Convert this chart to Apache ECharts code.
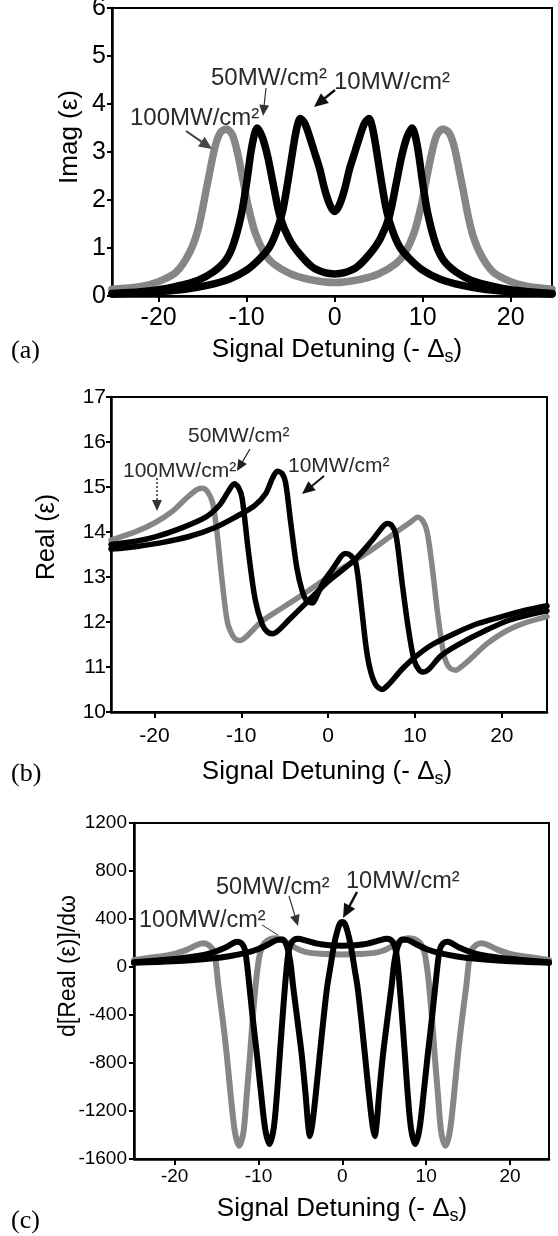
<!DOCTYPE html>
<html><head><meta charset="utf-8">
<script src="https://cdn.jsdelivr.net/npm/echarts@6/dist/echarts.min.js"></script>
<style>html,body{margin:0;padding:0;background:#fff}#c{width:558px;height:1236px}</style>
</head><body><div id="c"></div>
<script>
// ---------- DATA ----------
const SERIES_NAMES = ['10MW/cm²', '50MW/cm²', '100MW/cm²'];
const X_TICKS = [-20, -10, 0, 10, 20];

// Panel (a): Imag(eps)
const A10_X = [-25.3,-22,-20,-17,-14.5,-12,-10,-8.5,-7.4,-6.6,-5.9,-5.3,-4.7,-4.3,-3.9,-3.4,-2.9,-2.3,-1.7,-1.1,-0.5,0,0.5,1.1,1.7,2.3,2.9,3.4,3.9,4.3,4.7,5.3,5.9,6.6,7.4,8.5,10,12,14.5,17,20,22,24.7];
const A10_Y = [0.04,0.07,0.09,0.14,0.22,0.35,0.54,0.78,1.02,1.35,1.78,2.4,3.1,3.5,3.7,3.6,3.35,3.0,2.65,2.2,1.88,1.76,1.88,2.2,2.65,3.0,3.35,3.6,3.7,3.5,3.1,2.4,1.78,1.35,1.02,0.78,0.54,0.35,0.22,0.14,0.09,0.07,0.04];
const A50_X = [-25.3,-22,-20,-18,-15.5,-13.8,-12.4,-11.5,-10.6,-10,-9.4,-8.8,-8.2,-7.6,-7,-6.2,-5.2,-4,-2.5,-1,0,1,2.5,4,5.2,6.2,7,7.6,8.2,8.8,9.4,10,10.6,11.5,12.4,13.8,15.5,18,20,22,24.7];
const A50_Y = [0.05,0.09,0.13,0.2,0.33,0.5,0.74,1.08,1.7,2.36,3.12,3.5,3.3,2.9,2.35,1.65,1.2,0.88,0.6,0.48,0.46,0.48,0.6,0.88,1.2,1.65,2.35,2.9,3.3,3.5,3.12,2.36,1.7,1.08,0.74,0.5,0.33,0.2,0.13,0.09,0.05];
const A100_X = [-25.3,-22,-20,-18,-16.5,-15.5,-14.5,-13.6,-13,-12.3,-11.6,-11,-10.5,-9.8,-9,-8,-7,-5,-3,0,3,5,7,8,9,9.8,10.5,11,11.6,12.3,13,13.6,14.5,15.5,16.5,18,20,22,24.7];
const A100_Y = [0.14,0.2,0.3,0.5,0.9,1.4,2.3,3.1,3.4,3.48,3.35,2.95,2.5,1.85,1.3,0.9,0.68,0.46,0.35,0.28,0.35,0.46,0.68,0.9,1.3,1.85,2.5,2.95,3.35,3.48,3.4,3.1,2.3,1.4,0.9,0.5,0.3,0.2,0.14];

// Panel (b): Real(eps)
const B10_X = [-25,-22,-19,-16,-13,-10.5,-8.5,-7.2,-6.4,-5.85,-5.3,-4.9,-4.3,-3.6,-3.0,-2.5,-1.8,-1.2,-0.5,0.3,1.0,1.6,2.0,2.6,3.2,3.8,4.4,4.9,5.5,6.2,7.0,8.5,10,12,14.5,17,20,22.5,25.2];
const B10_Y = [13.62,13.68,13.77,13.9,14.1,14.35,14.58,14.85,15.2,15.35,15.3,15.1,14.2,13.2,12.7,12.48,12.42,12.62,12.9,13.12,13.32,13.48,13.52,13.48,13.3,12.4,11.4,10.9,10.6,10.5,10.62,10.95,11.22,11.5,11.74,11.95,12.12,12.25,12.36];
const B50_X = [-25,-22,-19.9,-17,-14.1,-12.5,-11.5,-10.8,-10.3,-9.9,-9.2,-8.4,-7.6,-7.0,-6.4,-5.8,-4.5,-2.6,0,3,5,6.3,6.8,7.3,7.8,8.5,9.2,9.9,10.5,11,11.6,13,15.2,18,21,25.2];
const B50_Y = [13.72,13.8,13.89,14.08,14.33,14.6,14.9,15.07,14.98,14.75,13.6,12.5,11.95,11.78,11.74,11.8,12.05,12.41,12.9,13.37,13.8,14.12,14.19,14.15,13.95,12.9,11.9,11.15,10.93,10.89,10.95,11.25,11.52,11.8,12.05,12.25];
const B100_X = [-25,-22,-20,-18,-16.5,-15.2,-14.5,-13.9,-13.3,-12.8,-12.2,-11.6,-11.0,-10.5,-10.1,-9.5,-7.6,-5,-2.6,0,2.5,5,7.5,9.5,10.3,10.9,11.4,12.0,12.6,13.3,13.9,14.7,15.3,16.5,18.3,20.5,22.5,25.2];
const B100_Y = [13.82,14.02,14.2,14.45,14.72,14.93,14.97,14.9,14.65,14.0,12.9,12.0,11.7,11.6,11.59,11.66,12.02,12.35,12.65,13.0,13.3,13.6,13.95,14.22,14.33,14.25,14.0,13.2,12.2,11.3,11.0,10.93,11.0,11.2,11.52,11.8,11.97,12.12];

// Panel (c): d[Real(eps)]/dw
const C10_X = [-24.85,-22,-19,-16,-13.5,-11.5,-10,-8.8,-7.8,-7.1,-6.6,-6.2,-5.86,-5.4,-4.86,-4.4,-4.1,-3.87,-3.6,-3.2,-2.68,-2.2,-1.8,-1.49,-1.0,-0.6,-0.3,0,0.3,0.6,1.0,1.49,1.8,2.2,2.68,3.2,3.6,3.87,4.1,4.4,4.86,5.4,5.86,6.2,6.6,7.1,7.8,8.8,10,11.5,13.5,16,19,22,24.65];
const C10_Y = [35,42,52,68,90,118,150,190,225,230,170,40,-167,-420,-722,-1050,-1300,-1410,-1320,-1080,-722,-400,-160,-28,180,300,360,375,360,300,180,-28,-160,-400,-722,-1080,-1320,-1410,-1300,-1050,-722,-420,-167,40,170,230,225,190,150,118,90,68,52,42,35];
const C50_X = [-24.85,-22,-19,-16,-14,-13,-12.5,-12,-11.6,-11.1,-10.7,-10.2,-9.7,-9.2,-8.7,-8.2,-7.8,-7.45,-7.0,-6.7,-6.4,-6.0,-5.3,-4.3,-3,-1.5,0,1.5,3,4.3,5.3,6.0,6.4,6.7,7.0,7.45,7.8,8.2,8.7,9.2,9.7,10.2,10.7,11.1,11.6,12,12.5,13,14,16,19,22,24.65];
const C50_Y = [40,55,75,110,160,200,210,195,139,-150,-420,-722,-1050,-1350,-1475,-1350,-1060,-722,-300,-50,130,210,235,220,195,182,178,182,195,220,235,210,130,-50,-300,-722,-1060,-1350,-1475,-1350,-1050,-722,-420,-150,139,195,210,200,160,110,75,55,40];
const C100_X = [-24.85,-22,-20,-18.5,-17.3,-16.6,-16.0,-15.5,-15.2,-14.8,-14.3,-13.8,-13.3,-12.8,-12.3,-11.8,-11.4,-11.0,-10.6,-10.2,-9.8,-9.3,-8.5,-7.8,-7,-6,-5,-4,-2,0,2,4,5,6,7,7.8,8.5,9.3,9.8,10.2,10.6,11.0,11.4,11.8,12.3,12.8,13.3,13.8,14.3,14.8,15.2,15.5,16.0,16.6,17.3,18.5,20,22,24.65];
const C100_Y = [58,85,110,145,185,198,185,150,100,-150,-420,-722,-1080,-1380,-1490,-1380,-1060,-722,-350,-60,120,200,235,240,220,175,140,120,108,105,108,120,140,175,220,240,235,200,120,-60,-350,-722,-1060,-1380,-1490,-1380,-1080,-722,-420,-150,100,150,185,198,185,145,110,85,58];

// ---------- LAYOUT / STYLE ----------
const FONT = '"Liberation Sans", Arial, Helvetica, sans-serif';
const SERIF = '"Liberation Serif", "Times New Roman", serif';
const BLACK = '#000000', GREY = '#868686', TXT = '#2a2a2a';

const panels = [
  { grid:{left:112, top:8, width:440, height:288}, xMin:-25.3, xMax:24.7, yMin:0, yMax:6, yInt:1,
    tick:25, xMargin:10, yMargin:6, lw:7.5,
    data:[[A10_X,A10_Y,BLACK],[A50_X,A50_Y,BLACK],[A100_X,A100_Y,GREY]] },
  { grid:{left:111, top:397, width:436, height:315}, xMin:-25, xMax:25.2, yMin:10, yMax:17, yInt:1,
    tick:21, xMargin:14, yMargin:5, lw:5.5,
    data:[[B10_X,B10_Y,BLACK],[B50_X,B50_Y,BLACK],[B100_X,B100_Y,GREY]] },
  { grid:{left:134, top:823, width:415, height:336}, xMin:-24.85, xMax:24.65, yMin:-1600, yMax:1200, yInt:400,
    tick:19, xMargin:8, yMargin:7, lw:6,
    data:[[C10_X,C10_Y,BLACK],[C50_X,C50_Y,BLACK],[C100_X,C100_Y,GREY]] }
];

const grids = [], xAxes = [], yAxes = [], series = [];
panels.forEach((p, i) => {
  grids.push(Object.assign({show:true, borderColor:'#000', borderWidth:2, backgroundColor:'transparent', outerBoundsMode:'none'}, p.grid));
  xAxes.push({
    gridIndex:i, type:'value', min:p.xMin, max:p.xMax,
    axisLine:{show:true, onZero:false, lineStyle:{color:'#000', width:2.5}},
    axisTick:{show:true, inside:false, length:6, customValues:X_TICKS, lineStyle:{color:'#000', width:2}},
    axisLabel:{show:true, customValues:X_TICKS, color:'#000', fontSize:p.tick, fontFamily:FONT, margin:p.xMargin,
               formatter:v => String(v)},
    splitLine:{show:false}
  });
  yAxes.push({
    gridIndex:i, type:'value', min:p.yMin, max:p.yMax, interval:p.yInt,
    axisLine:{show:true, onZero:false, lineStyle:{color:'#000', width:2.5}},
    axisTick:{show:true, inside:false, length:5, lineStyle:{color:'#000', width:2}},
    axisLabel:{show:true, color:'#000', fontSize:p.tick, fontFamily:FONT, margin:p.yMargin,
               formatter:v => String(v)},
    splitLine:{show:false}
  });
  [2,1,0].forEach(k => {
    const [X, Y, col] = p.data[k];
    series.push({
      name: SERIES_NAMES[k], type:'line', xAxisIndex:i, yAxisIndex:i,
      data: X.map((x, j) => [x, Y[j]]),
      showSymbol:false, symbol:'none', smooth:0.3, clip:true,
      lineStyle:{color:col, width:p.lw, cap:'round', join:'round'},
      z: 2 + (2-k)
    });
  });
});

// ---------- ANNOTATIONS ----------
const G = [];
function text(x, y, s, size, o) {
  o = o || {};
  G.push({type:'text', x:x, y:y, rotation:o.rot || 0, z:100,
    style:{text:s, fill:o.fill || '#000', font:(size)+'px '+(o.family || FONT),
           align:o.align || 'left', verticalAlign:'middle'}});
}
function arrow(x1, y1, x2, y2, head, w, o) {
  o = o || {};
  const dx = x2-x1, dy = y2-y1, L = Math.hypot(dx, dy), ux = dx/L, uy = dy/L;
  const bx = x2 - ux*head, by = y2 - uy*head, hw = head*0.45;
  G.push({type:'line', z:100, shape:{x1:x1, y1:y1, x2:head ? bx+ux*1 : x2, y2:head ? by+uy*1 : y2},
    style:{stroke:o.color || '#1a1a1a', lineWidth:w, lineDash:o.dash || null}});
  if (head) G.push({type:'polygon', z:100, shape:{points:[[x2,y2],[bx - uy*hw, by + ux*hw],[bx + uy*hw, by - ux*hw]]},
    style:{fill:o.color || '#1a1a1a'}});
}
const measureCtx = document.createElement('canvas').getContext('2d');
function xTitle(cx, cy, size) {
  const p1 = 'Signal Detuning (- Δ', sub = 's', p2 = ')';
  const ss = Math.round(size*0.68);
  measureCtx.font = size+'px '+FONT; const w1 = measureCtx.measureText(p1).width, w2 = measureCtx.measureText(p2).width;
  measureCtx.font = ss+'px '+FONT; const ws = measureCtx.measureText(sub).width;
  const x0 = cx - (w1+ws+w2)/2;
  text(x0, cy, p1, size);
  text(x0+w1, cy+size*0.28, sub, ss);
  text(x0+w1+ws, cy, p2, size);
}

// Panel (a)
text(70, 137, 'Imag (ε)', 26, {align:'center', rot:Math.PI/2});
xTitle(337, 350, 26);
text(11, 351, '(a)', 26, {family:SERIF});
text(130, 118, '100MW/cm²', 24, {fill:TXT});
text(211, 78, '50MW/cm²', 24, {fill:TXT});
text(334, 82, '10MW/cm²', 24, {fill:TXT});
arrow(186, 131, 212, 149, 13, 2, {color:'#444'});
arrow(266, 88, 263, 116, 11, 1.2, {color:'#333'});
arrow(335, 90, 314, 107, 14, 2.5, {color:'#111'});

// Panel (b)
text(47, 537, 'Real (ε)', 25, {align:'center', rot:Math.PI/2});
xTitle(327, 772, 26);
text(11, 774, '(b)', 26, {family:SERIF});
text(123, 471, '100MW/cm²', 21, {fill:TXT});
text(188, 436, '50MW/cm²', 21, {fill:TXT});
text(288, 466, '10MW/cm²', 21, {fill:TXT});
arrow(157, 478, 157, 511, 11, 1.5, {color:'#333', dash:[2,2]});
arrow(250, 449, 237, 471, 11, 1.2, {color:'#222'});
arrow(324, 476, 302, 494, 13, 2, {color:'#111'});

// Panel (c)
text(69, 966, 'd[Real (ε)]/dω', 23, {align:'center', rot:Math.PI/2});
xTitle(342, 1209, 26);
text(11, 1221, '(c)', 26, {family:SERIF});
text(139, 921, '100MW/cm²', 23.5, {fill:TXT});
text(216, 888, '50MW/cm²', 23.5, {fill:TXT});
text(346, 882, '10MW/cm²', 23.5, {fill:TXT});
arrow(357, 892, 343, 918, 14, 2.5, {color:'#111'});
arrow(289, 896, 298, 926, 11, 1.2, {color:'#333'});
arrow(262, 925, 278, 935, 0, 1, {color:'#333'});

const chart = echarts.init(document.getElementById('c'), null, {renderer:'canvas', width:558, height:1236});
chart.setOption({
  animation:false, backgroundColor:'#ffffff',
  grid:grids, xAxis:xAxes, yAxis:yAxes, series:series, graphic:G
});
</script></body></html>
